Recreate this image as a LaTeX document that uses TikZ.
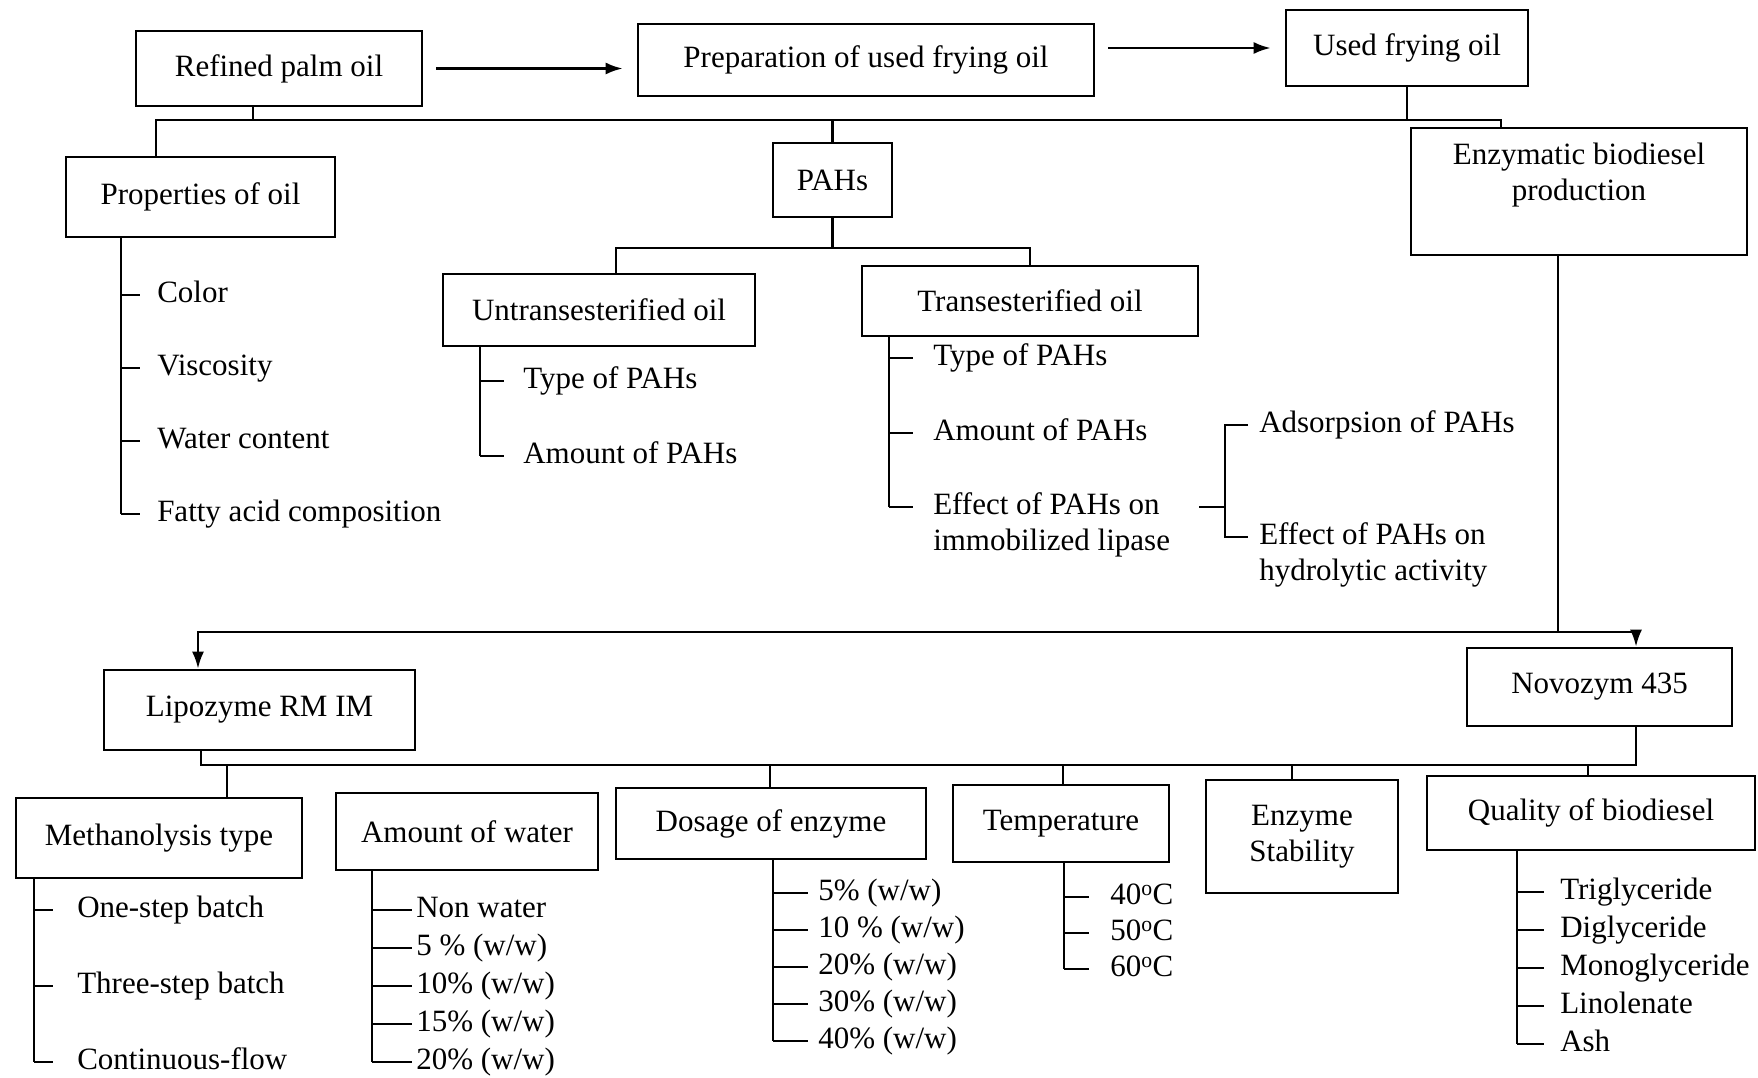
\documentclass[tikz,border=0pt]{standalone}
\usepackage{fontspec}
\setmainfont{Liberation Serif}
\usetikzlibrary{arrows.meta}

\begin{document}
\begin{tikzpicture}[x = 1pt, y = -1pt, > = {Latex[length = 17pt, width = 12pt]}, line width = 2.5pt,
	font = \fontsize{31}{36}\selectfont,
	box/.style = {draw, line width = 2.6pt, inner sep = 0pt, align = center},
	item/.style = {anchor = west, inner sep = 0pt, text height = 22pt, text depth = 7pt},
	pair/.style = {anchor = west, inner sep = 0pt, align = left}]

	% Frame
	
	\useasboundingbox (0, 0) rectangle (1758, 1078);
	
	% Top row of boxes
	
	\node [box, minimum width = 286, minimum height = 75] (refined) at (279, 68.5) {Refined palm oil};
	\node [box, minimum width = 456, minimum height = 72] (prep) at (866, 60) {Preparation of used frying oil};
	\node [box, minimum width = 242, minimum height = 76] (used) at (1407, 48) {Used frying oil};
	
	\draw [->] ([xshift = 13] refined.east) -- ([xshift = -14] prep.west |- refined.east);
	\draw [->] ([xshift = 13] prep.east |- used.west) -- ([xshift = -14] used.west);
	
	% Second row with top bus
	
	\node [box, minimum width = 269, minimum height = 80] (props) at (200.5, 197) {Properties of oil};
	\node [box, minimum width = 119, minimum height = 74] (pahs) at (832.5, 180) {PAHs};
	\node [box, minimum width = 336, minimum height = 127] (enz) at (1579, 191.5) {Enzymatic biodiesel\\production\\[3pt]};
	
	\coordinate (topbus) at (0, 120);
	\draw ([xshift = -44.5] props.north) |- ([xshift = -78] enz.north |- topbus) -- ([xshift = -78] enz.north);
	\draw ([xshift = -26] refined.south) -- ([xshift = -26] refined.south |- topbus);
	\draw (pahs.north) -- (pahs.north |- topbus);
	\draw (used.south) -- (used.south |- topbus);
	
	% Properties of oil list
	
	\coordinate (proptrunk) at (121, 0);
	\foreach \txt [count = \i] in {Color, Viscosity, Water content, Fatty acid composition} {
		\node [item] (prop\i) at (156, 222 + 73*\i) {\txt};
		\draw (prop\i.west -| proptrunk) -- ([xshift = -16] prop\i.west);
	}
	\draw (props.south -| proptrunk) -- (prop4.west -| proptrunk);
	
	% PAHs branch
	
	\node [box, minimum width = 312, minimum height = 72] (untrans) at (599, 310) {Untransesterified oil};
	\node [box, minimum width = 336, minimum height = 70] (trans) at (1030, 301) {Transesterified oil};
	
	\coordinate (pahbus) at (0, 248);
	\draw (pahs.south) -- (pahs.south |- pahbus);
	\draw ([xshift = 17] untrans.north) |- (trans.north |- pahbus) -- (trans.north);
	
	\coordinate (untrunk) at (480, 0);
	\foreach \txt [count = \i] in {Type of PAHs, Amount of PAHs} {
		\node [item] (unt\i) at (522, 306 + 75*\i) {\txt};
		\draw (unt\i.west -| untrunk) -- ([xshift = -18] unt\i.west);
	}
	\draw (untrans.south -| untrunk) -- (unt2.west -| untrunk);
	
	\coordinate (trtrunk) at (889, 0);
	\foreach \txt [count = \i] in {Type of PAHs, Amount of PAHs} {
		\node [item] (tr\i) at (932, 283 + 75*\i) {\txt};
		\draw (tr\i.west -| trtrunk) -- ([xshift = -19] tr\i.west);
	}
	\node [pair] (eff) at (932, 525) {Effect of PAHs on\\immobilized lipase};
	\draw ([yshift = 18] eff.west -| trtrunk) -- ([xshift = -19, yshift = 18] eff.west);
	\draw (trans.south -| trtrunk) -- ([yshift = 18] eff.west -| trtrunk);
	
	% Effect on lipase bracket
	
	\coordinate (brk) at (1225, 0);
	\node [item] (adsorp) at (1258, 425) {Adsorpsion of PAHs};
	\node [pair] (hydro) at (1258, 555) {Effect of PAHs on\\hydrolytic activity};
	\draw ([xshift = 28, yshift = 18] eff.east) -- ([yshift = 18] eff.east -| brk);
	\draw ([xshift = -10] adsorp.west) -| ([yshift = 18] hydro.west -| brk) -- ([xshift = -10, yshift = 18] hydro.west);
	
	% Enzymes
	
	\node [box, minimum width = 311, minimum height = 80] (lipo) at (259.5, 710) {Lipozyme RM IM};
	\node [box, minimum width = 265, minimum height = 78] (novo) at (1599.5, 687) {Novozym 435};
	
	\coordinate (midbus) at (0, 632);
	\draw ([xshift = -21] enz.south) -- ([xshift = -21] enz.south |- midbus);
	\draw [<->] ([xshift = -61.5] lipo.north) |- ([xshift = 36.5] novo.north |- midbus) -- ([xshift = 36.5] novo.north);
	
	% Bottom row of boxes
	
	\node [box, minimum width = 286, minimum height = 80] (meth) at (159, 838) {Methanolysis type};
	\node [box, minimum width = 262, minimum height = 77] (water) at (467, 831.5) {Amount of water};
	\node [box, minimum width = 310, minimum height = 71] (dose) at (771, 823.5) {Dosage of enzyme};
	\node [box, minimum width = 216, minimum height = 77] (temp) at (1061, 823.5) {Temperature};
	\node [box, minimum width = 192, minimum height = 113] (stab) at (1302, 836.5) {Enzyme\\Stability};
	\node [box, minimum width = 328, minimum height = 74] (quality) at (1591, 813) {Quality of biodiesel};
	
	\coordinate (lowbus) at (0, 765);
	\draw ([xshift = -58.5] lipo.south) |- ([xshift = 36.5] novo.south |- lowbus) -- ([xshift = 36.5] novo.south);
	\foreach \nd/\dx in {meth/68, dose/-1, temp/2, stab/-10, quality/-3}
		\draw ([xshift = \dx] \nd.north) -- ([xshift = \dx] \nd.north |- lowbus);
	
	% Methanolysis list
	
	\coordinate (methtrunk) at (34, 0);
	\foreach \txt [count = \i] in {One-step batch, Three-step batch, Continuous-flow} {
		\node [item] (meth\i) at (76, 834 + 76*\i) {\txt};
		\draw (meth\i.west -| methtrunk) -- ([xshift = -23] meth\i.west);
	}
	\draw (meth.south -| methtrunk) -- (meth3.west -| methtrunk);
	
	% Water list
	
	\coordinate (watertrunk) at (372, 0);
	\foreach \txt [count = \i] in {Non water, 5 \% (w/w), 10\% (w/w), 15\% (w/w), 20\% (w/w)} {
		\node [item] (water\i) at (415, 872 + 38*\i) {\txt};
		\draw (water\i.west -| watertrunk) -- ([xshift = -3] water\i.west);
	}
	\draw (water.south -| watertrunk) -- (water5.west -| watertrunk);
	
	% Dosage list
	
	\coordinate (dosetrunk) at (773, 0);
	\foreach \txt [count = \i] in {5\% (w/w), 10 \% (w/w), 20\% (w/w), 30\% (w/w), 40\% (w/w)} {
		\node [item] (dose\i) at (817, 856 + 37*\i) {\txt};
		\draw (dose\i.west -| dosetrunk) -- ([xshift = -9] dose\i.west);
	}
	\draw (dose.south -| dosetrunk) -- (dose5.west -| dosetrunk);
	
	% Temperature list
	
	\coordinate (temptrunk) at (1064, 0);
	\foreach \txt [count = \i] in {40, 50, 60} {
		\node [item] (temp\i) at (1109, 861 + 36*\i) {\txt\textsuperscript{o}C};
		\draw (temp\i.west -| temptrunk) -- ([xshift = -20] temp\i.west);
	}
	\draw (temp.south -| temptrunk) -- (temp3.west -| temptrunk);
	
	% Quality list
	
	\coordinate (qualtrunk) at (1517, 0);
	\foreach \txt [count = \i] in {Triglyceride, Diglyceride, Monoglyceride, Linolenate, Ash} {
		\node [item] (qual\i) at (1559, 854 + 38*\i) {\txt};
		\draw (qual\i.west -| qualtrunk) -- ([xshift = -15] qual\i.west);
	}
	\draw (quality.south -| qualtrunk) -- (qual5.west -| qualtrunk);

\end{tikzpicture}
\end{document}
